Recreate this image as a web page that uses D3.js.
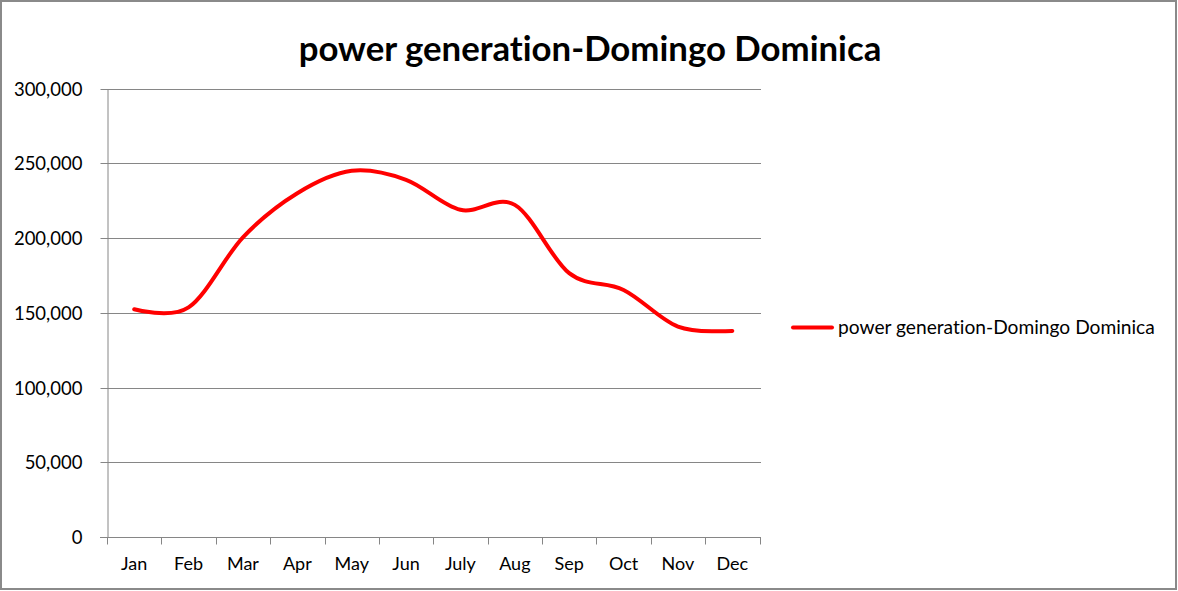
<!DOCTYPE html>
<html><head><meta charset="utf-8">
<script src="https://cdn.jsdelivr.net/npm/d3@7"></script>
<style>body{margin:0;background:#fff}svg{display:block}text{font-variant-ligatures:none;font-feature-settings:"liga" 0,"clig" 0}</style>
</head><body>
<svg id="c" width="1178" height="591"></svg>
<script>
const categories = ["Jan","Feb","Mar","Apr","May","Jun","July","Aug","Sep","Oct","Nov","Dec"];
const values = [152400,153600,200500,230000,245000,239000,218900,222200,176500,165300,140800,137900];
const yTicks = [0,50000,100000,150000,200000,250000,300000];
const seriesName = "power generation-Domingo Dominica";
const titleText = "power generation-Domingo Dominica";

const svg = d3.select("#c");
const font = "Lato, 'Open Sans', sans-serif";
const grid = "#868686";

svg.append("rect").attr("x",1).attr("y",1).attr("width",1175).attr("height",588)
  .attr("fill","#fff").attr("stroke","#8a8a8a").attr("stroke-width",2);

const L=107, R=759.5, T=88.6, B=537;
const x = d3.scaleBand().domain(categories).range([L,R]);
const y = d3.scaleLinear().domain([0,300000]).range([B,T]);

// gridlines
svg.append("g").selectAll("line").data(yTicks.filter(d=>d>0)).join("line")
  .attr("x1",L).attr("x2",761).attr("y1",d=>Math.round(y(d))+0.5).attr("y2",d=>Math.round(y(d))+0.5)
  .attr("stroke",grid).attr("stroke-width",1);

// y axis
const yAxis = svg.append("g").attr("transform",`translate(${L+0.5},0)`)
  .call(d3.axisLeft(y).tickValues(yTicks).tickSize(7).tickSizeOuter(0).tickPadding(18)
    .tickFormat(d3.format(",")));
yAxis.select(".domain").attr("stroke",grid);
yAxis.selectAll(".tick line").attr("stroke",grid);
yAxis.selectAll(".tick").attr("transform",d=>`translate(0,${Math.round(y(d))+0.5})`);
yAxis.selectAll("text").attr("font-family",font).attr("font-size",18.5).attr("fill","#000").attr("dy","0.35em");

// x axis
const xAxis = svg.append("g").attr("transform",`translate(0,${B+0.5})`)
  .call(d3.axisBottom(x).tickSize(0).tickPadding(20));
xAxis.select(".domain").remove();
xAxis.append("line").attr("x1",L-7).attr("x2",761).attr("stroke",grid);
const bounds = d3.range(categories.length+1).map(i=>L+i*x.step());
xAxis.selectAll(".bt").data(bounds).join("line").attr("class","bt")
  .attr("x1",d=>Math.round(d)+0.5).attr("x2",d=>Math.round(d)+0.5).attr("y1",0).attr("y2",7).attr("stroke",grid);
xAxis.selectAll("text").attr("font-family",font).attr("font-size",18).attr("fill","#000");

// line
const line = d3.line().x((d,i)=>x(categories[i])+x.bandwidth()/2).y(d=>y(d)).curve(d3.curveCardinal.tension(0));
svg.append("path").datum(values).attr("d",line).attr("fill","none")
  .attr("stroke","#ff0000").attr("stroke-width",4).attr("stroke-linecap","round").attr("stroke-linejoin","round");

// title
const title = svg.append("text").attr("x",590).attr("y",61).attr("text-anchor","middle")
  .attr("font-family",font).attr("font-weight","bold").attr("font-size",34).attr("fill","#000").text(titleText);
const tw = title.node().getComputedTextLength();
title.attr("font-size",34*583/tw);

// legend
svg.append("line").attr("x1",793).attr("x2",832).attr("y1",327.5).attr("y2",327.5)
  .attr("stroke","#ff0000").attr("stroke-width",4).attr("stroke-linecap","round");
const lt = svg.append("text").attr("x",838).attr("y",333.5).attr("font-family",font)
  .attr("font-size",17).attr("fill","#000").text(seriesName);
const lw = lt.node().getComputedTextLength();
lt.attr("font-size",17*317/lw);
</script>
</body></html>
